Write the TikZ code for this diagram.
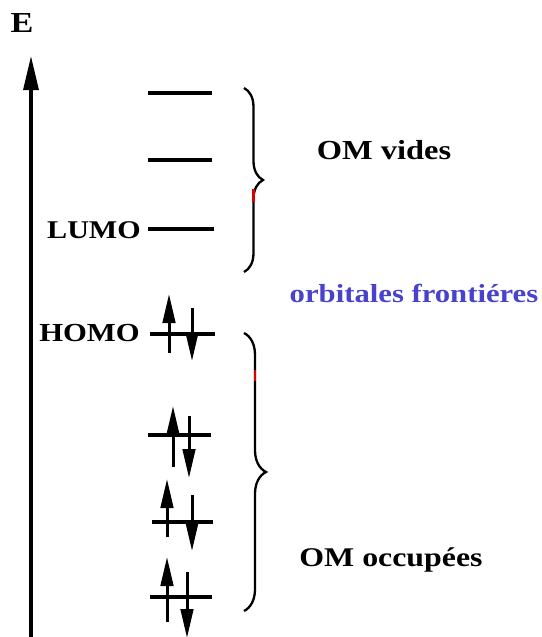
\documentclass[tikz,border=0pt]{standalone}
\usepackage{fontspec}
\setmainfont[FakeStretch=1.18]{Liberation Serif}
\usetikzlibrary{arrows.meta,decorations.pathreplacing}
\definecolor{frontblue}{RGB}{72,66,204}
\begin{document}
\begin{tikzpicture}[x=1pt,y=-1pt,
  level/.style={line width=3.1pt},
  elec/.style={line width=3pt,-{Triangle[length=29pt,width=12.5pt]}},
  lab/.style={font=\bfseries\fontsize{26}{28}\selectfont,inner sep=0pt},
  bracestyle/.style={line width=2.3pt,decorate,decoration={brace,amplitude=#1}},
  redbit/.style={line width=2.8pt,red!85!black}]
\useasboundingbox (0,0) rectangle (541,637);
% axis
\coordinate (axb) at (31,640);
\coordinate (axt) at (31,56);
\draw[line width=3.2pt,-{Triangle[length=34pt,width=15pt]}] (axb) -- (axt);
\node[lab,font=\bfseries\fontsize{29}{30}\selectfont] (E) at (22,23) {E};
% empty levels
\coordinate (v1a) at (148,93);  \coordinate (v1b) at (212,93);
\coordinate (v2a) at (148,160); \coordinate (v2b) at (212,160);
\coordinate (lua) at (148,229); \coordinate (lub) at (214,229);
\draw[level] (v1a) -- (v1b);
\draw[level] (v2a) -- (v2b);
\draw[level] (lua) -- (lub);
\node[lab,anchor=east,font=\bfseries\fontsize{25.5}{27}\selectfont] (lumo) at (141,230) {LUMO};
% occupied levels
\coordinate (hoa) at (150,334); \coordinate (hob) at (215,334);
\coordinate (o2a) at (148,435); \coordinate (o2b) at (211,435);
\coordinate (o3a) at (152,522); \coordinate (o3b) at (213,522);
\coordinate (o4a) at (150,597); \coordinate (o4b) at (212,597);
\draw[level] (hoa) -- (hob);
\draw[level] (o2a) -- (o2b);
\draw[level] (o3a) -- (o3b);
\draw[level] (o4a) -- (o4b);
\node[lab,anchor=east] (homo) at (140,333) {HOMO};
% electrons
\coordinate (hu1) at (169,353); \coordinate (hu2) at (169,294);
\coordinate (hd1) at (192,308); \coordinate (hd2) at (192,361);
\draw[elec] (hu1) -- (hu2);
\draw[elec] (hd1) -- (hd2);
\coordinate (u21) at (173,467); \coordinate (u22) at (173,406);
\coordinate (d21) at (189,416); \coordinate (d22) at (189,478);
\draw[elec] (u21) -- (u22);
\draw[elec] (d21) -- (d22);
\coordinate (u31) at (167,537); \coordinate (u32) at (167,479);
\coordinate (d31) at (192,495); \coordinate (d32) at (192,551);
\draw[elec] (u31) -- (u32);
\draw[elec] (d31) -- (d32);
\coordinate (u41) at (167,622); \coordinate (u42) at (167,557);
\coordinate (d41) at (187,572); \coordinate (d42) at (187,638);
\draw[elec] (u41) -- (u42);
\draw[elec] (d41) -- (d42);
% braces
\coordinate (b1t) at (244,88);  \coordinate (b1b) at (244,272);
\coordinate (b2t) at (244,333); \coordinate (b2b) at (244,611);
\draw[bracestyle=19pt] (b1t) -- (b1b);
\draw[bracestyle=22pt] (b2t) -- (b2b);
\coordinate (r1a) at (253.5,189); \coordinate (r1b) at (253.5,202);
\coordinate (r2a) at (255,370); \coordinate (r2b) at (255,381);
\draw[redbit] (r1a) -- (r1b);
\draw[redbit] (r2a) -- (r2b);
% labels
\node[lab,font=\bfseries\fontsize{27.5}{29}\selectfont] (vides) at (384,150) {OM vides};
\node[lab,text=frontblue,font=\bfseries\fontsize{26}{28}\selectfont] (front) at (414,293) {orbitales frontiéres};
\node[lab,font=\bfseries\fontsize{27}{29}\selectfont] (occ) at (391,560) {OM occupées};
\end{tikzpicture}
\end{document}
